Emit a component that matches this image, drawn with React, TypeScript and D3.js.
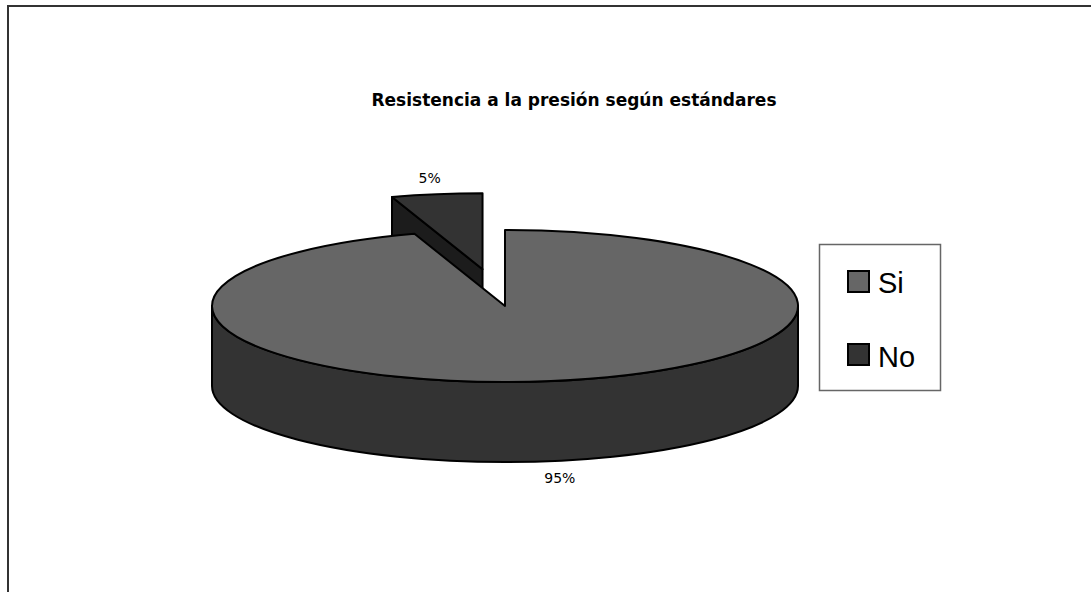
import React from "react";
import * as d3 from "d3";

const categories = ["Si", "No"];
const values = [95, 5];
const pctLabels = ["95%", "5%"];
const topColors = ["#666666", "#333333"];
const sideColors = ["#333333", "#1c1c1c"];
const explode = [0, 0.49];
const title = "Resistencia a la presión según estándares";

const W = 1091;
const H = 592;
const cx = 505;
const cy = 306;
const rx = 293;
const ry = 76;
const depth = 80;

export default function App() {
  const pie = d3.pie<number>().sort(null).value((d) => d);
  const arcs = pie(values);

  const pt = (a: number, ox: number, oy: number, z = 0): [number, number] => [
    cx + ox + rx * Math.sin(a),
    cy + oy - ry * Math.cos(a) + z,
  ];
  const f = (p: [number, number]) => `${p[0].toFixed(2)},${p[1].toFixed(2)}`;

  const slices = arcs.map((a, i) => {
    const mid = (a.startAngle + a.endAngle) / 2;
    const e = explode[i];
    const ox = e * rx * Math.sin(mid);
    const oy = -e * ry * Math.cos(mid);
    const s = a.startAngle;
    const en = a.endAngle;
    const large = en - s > Math.PI ? 1 : 0;
    const c: [number, number] = [cx + ox, cy + oy];
    const top = `M${f(c)}L${f(pt(s, ox, oy))}A${rx},${ry} 0 ${large} 1 ${f(pt(en, ox, oy))}Z`;
    // outer wall (front half only)
    const lo = Math.max(s, Math.PI / 2);
    const hi = Math.min(en, (3 * Math.PI) / 2);
    let wall = "";
    if (lo < hi) {
      const lg = hi - lo > Math.PI ? 1 : 0;
      wall = `M${f(pt(lo, ox, oy))}A${rx},${ry} 0 ${lg} 1 ${f(pt(hi, ox, oy))}L${f(
        pt(hi, ox, oy, depth)
      )}A${rx},${ry} 0 ${lg} 0 ${f(pt(lo, ox, oy, depth))}Z`;
    }
    const faces: string[] = [];
    const cd: [number, number] = [c[0], c[1] + depth];
    if (Math.sin(s) < -1e-6) {
      faces.push(`M${f(c)}L${f(pt(s, ox, oy))}L${f(pt(s, ox, oy, depth))}L${f(cd)}Z`);
    }
    if (Math.sin(en) > 1e-6) {
      faces.push(`M${f(c)}L${f(pt(en, ox, oy))}L${f(pt(en, ox, oy, depth))}L${f(cd)}Z`);
    }
    return { i, mid, ox, oy, top, wall, faces };
  });

  // draw back (exploded) slice first, then the main slice
  const order = [1, 0];

  const siMid = slices[0].mid;
  const siAnchor = pt(siMid, slices[0].ox, slices[0].oy, depth);
  const noMid = slices[1].mid;
  const noAnchor = pt(noMid, slices[1].ox, slices[1].oy);

  const stroke = "#000";
  const sw = 2;

  return (
    <svg
      width={W}
      height={H}
      style={{ position: "fixed", left: 0, top: 0, background: "#fff" }}
    >
      <rect x={0} y={0} width={W} height={H} fill="#fff" />
      <rect x={8} y={6} width={1300} height={900} fill="none" stroke="#333" strokeWidth={2} />
      <text
        x={574}
        y={106}
        textAnchor="middle"
        fontFamily="DejaVu Sans"
        fontWeight="bold"
        fontSize={17}
        fill="#000"
      >
        {title}
      </text>

      {order.map((k) => {
        const sl = slices[k];
        return (
          <g key={k} strokeLinejoin="round">
            {sl.faces.map((p, j) => (
              <path key={j} d={p} fill={sideColors[k]} stroke={stroke} strokeWidth={sw} />
            ))}
            {sl.wall && <path d={sl.wall} fill={sideColors[k]} stroke={stroke} strokeWidth={sw} />}
            <path d={sl.top} fill={topColors[k]} stroke={stroke} strokeWidth={sw} />
          </g>
        );
      })}

      <text
        x={siAnchor[0] + 9}
        y={siAnchor[1] + 22}
        textAnchor="middle"
        fontFamily="DejaVu Sans"
        fontSize={14}
        fill="#000"
      >
        {pctLabels[0]}
      </text>
      <text
        x={noAnchor[0] - 7}
        y={noAnchor[1] - 11}
        textAnchor="middle"
        fontFamily="DejaVu Sans"
        fontSize={14}
        fill="#000"
      >
        {pctLabels[1]}
      </text>

      <rect x={819.5} y={244.5} width={121} height={146} fill="#fff" stroke="#666" strokeWidth={1.5} />
      {categories.map((c, i) => (
        <g key={c}>
          <rect
            x={848}
            y={271 + i * 73}
            width={21}
            height={21}
            fill={topColors[i]}
            stroke="#000"
            strokeWidth={2}
          />
          <text
            x={878}
            y={293 + i * 74}
            fontFamily="Liberation Sans"
            fontSize={29}
            fill="#000"
          >
            {c}
          </text>
        </g>
      ))}
    </svg>
  );
}
